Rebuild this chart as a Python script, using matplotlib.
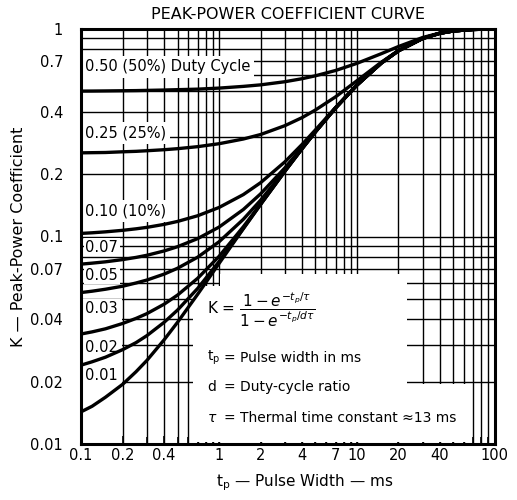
import matplotlib
matplotlib.use("Agg")
import matplotlib.pyplot as plt
from matplotlib.patches import Rectangle

# pulse width tp (ms) and K
tp = [0.1, 0.12, 0.15, 0.2, 0.25, 0.3, 0.4, 0.5, 0.7, 1, 1.5, 2, 3, 4, 5, 7, 10, 15, 20, 30, 40, 50, 70, 100]
tail = [0.6846, 0.7853, 0.9005, 0.9539, 0.9786, 0.9954, 0.9995]
k50 = [0.502, 0.5023, 0.503, 0.504, 0.5048, 0.506, 0.508, 0.510, 0.513, 0.519, 0.529, 0.538, 0.557,
       0.576, 0.595, 0.631, 0.683, 0.760, 0.823, 0.910, 0.956, 0.979, 0.995, 1.0]
k25 = [0.253, 0.2535, 0.254, 0.256, 0.2573, 0.259, 0.262, 0.265, 0.271, 0.280, 0.295, 0.310, 0.342,
       0.374, 0.407, 0.471, 0.563, 0.691, 0.787, 0.901, 0.954, 0.979, 0.995, 1.0]
k10 = [0.1035, 0.1042, 0.1053, 0.1071, 0.1089, 0.1107, 0.1144, 0.1182, 0.1259, 0.1380, 0.1592, 0.1816,
       0.2288, 0.2777, 0.3263, 0.4183, 0.5369] + tail
k07 = [0.0736, 0.0744, 0.0755, 0.0774, 0.0793, 0.0812, 0.0852, 0.0893, 0.0977, 0.1110, 0.1349, 0.1604,
       0.2140, 0.2682, 0.3206, 0.4166, 0.5366] + tail
k05 = [0.0537, 0.0545, 0.0557, 0.0576, 0.0597, 0.0617, 0.0659, 0.0703, 0.0795, 0.0943, 0.1210, 0.1495,
       0.2081, 0.2654, 0.3194, 0.4164, 0.5366] + tail
k03 = [0.0339, 0.0347, 0.0359, 0.0381, 0.0403, 0.0425, 0.0472, 0.0522, 0.0629, 0.0802, 0.1114, 0.1434,
       0.2062, 0.2649, 0.3193, 0.4164, 0.5366] + tail
k02 = [0.0240, 0.0249, 0.0262, 0.0285, 0.0308, 0.0333, 0.0386, 0.0442, 0.0562, 0.0757, 0.1093, 0.1427,
       0.2061, 0.2649, 0.3193, 0.4164, 0.5366] + tail
k01 = [0.0143, 0.0152, 0.0168, 0.0194, 0.0223, 0.0253, 0.0318, 0.0386, 0.0527, 0.0741, 0.1090, 0.1426,
       0.2061, 0.2649, 0.3193, 0.4164, 0.5366] + tail
curves = [k50, k25, k10, k07, k05, k03, k02, k01]

labels = ["0.50 (50%) Duty Cycle", "0.25 (25%)", "0.10 (10%)", "0.07", "0.05", "0.03", "0.02", "0.01"]
label_y = [0.656, 0.315, 0.132, 0.089, 0.0652, 0.0452, 0.0293, 0.0213]

xticks = [0.1, 0.2, 0.4, 1, 2, 4, 7, 10, 20, 40, 100]
xticklabels = ["0.1", "0.2", "0.4", "1", "2", "4", "7", "10", "20", "40", "100"]
yticks = [0.01, 0.02, 0.04, 0.07, 0.1, 0.2, 0.4, 0.7, 1]
yticklabels = ["0.01", "0.02", "0.04", "0.07", "0.1", "0.2", "0.4", "0.7", "1"]

fig = plt.figure(figsize=(5.17, 5.0), dpi=100)
ax = fig.add_axes([0.157, 0.112, 0.8, 0.83])
ax.set_xscale("log")
ax.set_yscale("log")
ax.set_xlim(0.1, 100)
ax.set_ylim(0.01, 1)

# log grid, drawn by hand so white panels can sit over it
for n in (-1, 0, 1):
    for m in range(1, 10):
        ax.axvline(m * 10.0 ** n, color="black", lw=1.0, zorder=1)
for n in (-2, -1):
    for m in range(1, 10):
        ax.axhline(m * 10.0 ** n, color="black", lw=1.0, zorder=1)

# blank areas: formula panel (stepped) and left label column
for (x0, x1, y0, y1) in [(0.65, 1.01, 0.0102, 0.0575), (1.01, 23, 0.0102, 0.066),
                         (0.65, 62, 0.0102, 0.0195), (0.1, 0.197, 0.0102, 0.05)]:
    ax.add_patch(Rectangle((x0, y0), x1 - x0, y1 - y0, facecolor="white",
                           edgecolor="none", zorder=2))

for k in curves:
    ax.plot(tp, k, color="black", lw=2.4, zorder=3, solid_capstyle="round")

for i, (lab, y) in enumerate(zip(labels, label_y)):
    ax.text(0.107, y, lab, fontsize=10.5, va="center", ha="left", zorder=2.5,
            bbox=dict(facecolor="white", edgecolor="none", pad=2.5 if i < 3 else 1.2))

# formula block
ax.text(0.82, 0.0443, r"K = $\dfrac{1-e^{-t_p/\tau}}{1-e^{-t_p/d\tau}}$",
        fontsize=11, va="center", ha="left", zorder=4)
sym = [r"t$_\mathregular{p}$", "d", r"$\tau$"]
desc = ["= Pulse width in ms", "= Duty-cycle ratio", "= Thermal time constant \u224813 ms"]
desc_y = [0.0260, 0.0188, 0.01334]
for s, d, y in zip(sym, desc, desc_y):
    ax.text(0.82, y, s, fontsize=10, va="center", ha="left", zorder=4)
    ax.text(1.08, y, d, fontsize=10, va="center", ha="left", zorder=4)

ax.set_xticks(xticks)
ax.set_xticklabels(xticklabels)
ax.set_yticks(yticks)
ax.set_yticklabels(yticklabels)
ax.minorticks_on()
ax.yaxis.set_tick_params(which="both", length=0, pad=13, labelsize=10.5)
ax.xaxis.set_tick_params(which="major", direction="in", length=6, width=1.2, pad=3, labelsize=10.5)
ax.xaxis.set_tick_params(which="minor", direction="in", length=5, width=1.2, labelbottom=False)
for sp in ax.spines.values():
    sp.set_linewidth(2.2)
    sp.set_zorder(5)

ax.set_xlabel(r"t$_\mathregular{p}$ — Pulse Width — ms", fontsize=11, labelpad=7, x=0.54)
ax.set_ylabel("K — Peak-Power Coefficient", fontsize=11.5, labelpad=3)
ax.set_title("PEAK-POWER COEFFICIENT CURVE", fontsize=11.5, pad=7)

fig.savefig("out.png", dpi=100)
